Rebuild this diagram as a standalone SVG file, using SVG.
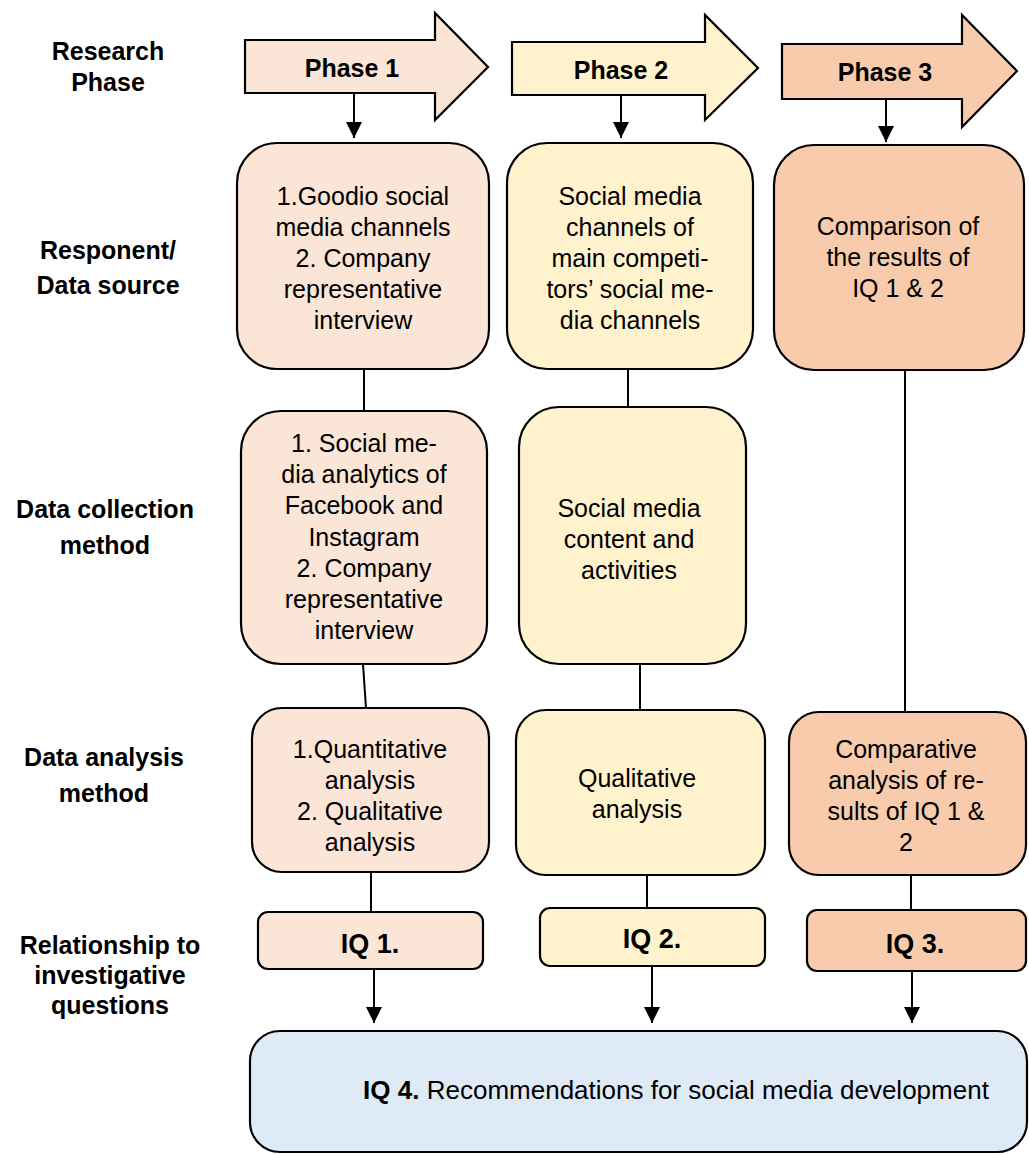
<svg xmlns="http://www.w3.org/2000/svg" width="1029" height="1155" viewBox="0 0 1029 1155">
<defs>
<marker id="ah" viewBox="0 0 10 10" refX="10" refY="5" markerWidth="8" markerHeight="8" markerUnits="strokeWidth" orient="auto"><path d="M0,0 L10,5 L0,10 z" fill="#000"/></marker>
<style>
text{font-family:"Liberation Sans",Arial,sans-serif;font-size:25px;fill:#000;text-anchor:middle}
.b{font-weight:bold}
.q{font-weight:bold;font-size:27px}
.s{stroke:#000;stroke-width:2.2}
.c1{fill:#FBE5D6}.c2{fill:#FFF2CC}.c3{fill:#F8CBAD}.c4{fill:#DEEBF7}
.ln{stroke:#000;stroke-width:2;fill:none}
</style>
</defs>
<rect width="1029" height="1155" fill="#fff"/>
<g id="labels">
<text class="b" x="108" y="60">Research</text>
<text class="b" x="108" y="91">Phase</text>
<text class="b" x="108" y="259">Responent/</text>
<text class="b" x="108" y="294">Data source</text>
<text class="b" x="105" y="518">Data collection</text>
<text class="b" x="105" y="554">method</text>
<text class="b" x="104" y="766">Data analysis</text>
<text class="b" x="104" y="802">method</text>
<text class="b" x="110" y="954">Relationship to</text>
<text class="b" x="110" y="984">investigative</text>
<text class="b" x="110" y="1014">questions</text>
</g>
<g id="phase1"><path class="s c1" d="M245,40 H435 V13 L488,67 L435,120 V93 H245 Z"/><text class="b" x="352" y="77">Phase 1</text></g>
<g id="phase2"><path class="s c2" d="M512,42 H705 V15 L758,68 L705,120 V95 H512 Z"/><text class="b" x="621" y="79">Phase 2</text></g>
<g id="phase3"><path class="s c3" d="M782,44 H962 V15 L1017,71 L962,127 V99 H782 Z"/><text class="b" x="885" y="81">Phase 3</text></g>
<g id="c1r1"><rect class="s c1" x="237" y="143" width="252" height="226" rx="40"/>
<text x="363" y="205">1.Goodio social</text><text x="363" y="236">media channels</text><text x="363" y="267">2. Company</text><text x="363" y="298">representative</text><text x="363" y="329">interview</text></g>
<g id="c2r1"><rect class="s c2" x="507" y="143" width="246" height="226" rx="40"/>
<text x="630" y="205">Social media</text><text x="630" y="236">channels of</text><text x="630" y="267">main competi-</text><text x="630" y="298">tors’ social me-</text><text x="630" y="329">dia channels</text></g>
<g id="c3r1"><rect class="s c3" x="774" y="145" width="250" height="225" rx="40"/>
<text x="898" y="235">Comparison of</text><text x="898" y="266">the results of</text><text x="898" y="297">IQ 1 &amp; 2</text></g>
<g id="c1r2"><rect class="s c1" x="241" y="411" width="246" height="253" rx="40"/>
<text x="364" y="452">1. Social me-</text><text x="364" y="483">dia analytics of</text><text x="364" y="514">Facebook and</text><text x="364" y="546">Instagram</text><text x="364" y="577">2. Company</text><text x="364" y="608">representative</text><text x="364" y="639">interview</text></g>
<g id="c2r2"><rect class="s c2" x="519" y="407" width="227" height="257" rx="40"/>
<text x="629" y="517">Social media</text><text x="629" y="548">content and</text><text x="629" y="579">activities</text></g>
<g id="c1r3"><rect class="s c1" x="252" y="708" width="237" height="164" rx="30"/>
<text x="370" y="758">1.Quantitative</text><text x="370" y="789">analysis</text><text x="370" y="820">2. Qualitative</text><text x="370" y="851">analysis</text></g>
<g id="c2r3"><rect class="s c2" x="516" y="710" width="249" height="165" rx="30"/>
<text x="637" y="787">Qualitative</text><text x="637" y="818">analysis</text></g>
<g id="c3r3"><rect class="s c3" x="789" y="712" width="237" height="163" rx="30"/>
<text x="906" y="758">Comparative</text><text x="906" y="789">analysis of re-</text><text x="906" y="820">sults of IQ 1 &amp;</text><text x="906" y="851">2</text></g>
<g id="iq1"><rect class="s c1" x="258" y="912" width="225" height="57" rx="10"/><text class="q" x="370" y="953">IQ 1.</text></g>
<g id="iq2"><rect class="s c2" x="540" y="908" width="225" height="58" rx="10"/><text class="q" x="652" y="948">IQ 2.</text></g>
<g id="iq3"><rect class="s c3" x="807" y="910" width="219" height="61" rx="10"/><text class="q" x="915" y="953">IQ 3.</text></g>
<g id="iq4"><rect class="s c4" x="250" y="1031" width="777" height="121" rx="30"/><text x="676" y="1099" style="font-size:26px"><tspan class="b">IQ 4.</tspan> Recommendations for social media development</text></g>
<g id="connectors">
<line class="ln" x1="354" y1="93" x2="354" y2="138" marker-end="url(#ah)"/>
<line class="ln" x1="621" y1="95" x2="621" y2="138" marker-end="url(#ah)"/>
<line class="ln" x1="886" y1="99" x2="886" y2="142" marker-end="url(#ah)"/>
<line class="ln" x1="364" y1="369" x2="364" y2="411"/>
<line class="ln" x1="363" y1="664" x2="366" y2="708"/>
<line class="ln" x1="371" y1="872" x2="371" y2="912"/>
<line class="ln" x1="374" y1="969" x2="374" y2="1023" marker-end="url(#ah)"/>
<line class="ln" x1="628" y1="369" x2="628" y2="407"/>
<line class="ln" x1="640" y1="664" x2="640" y2="710"/>
<line class="ln" x1="647" y1="875" x2="647" y2="908"/>
<line class="ln" x1="652" y1="966" x2="652" y2="1023" marker-end="url(#ah)"/>
<line class="ln" x1="905" y1="370" x2="905" y2="712"/>
<line class="ln" x1="911" y1="875" x2="911" y2="910"/>
<line class="ln" x1="912" y1="971" x2="912" y2="1023" marker-end="url(#ah)"/>
</g>
</svg>
